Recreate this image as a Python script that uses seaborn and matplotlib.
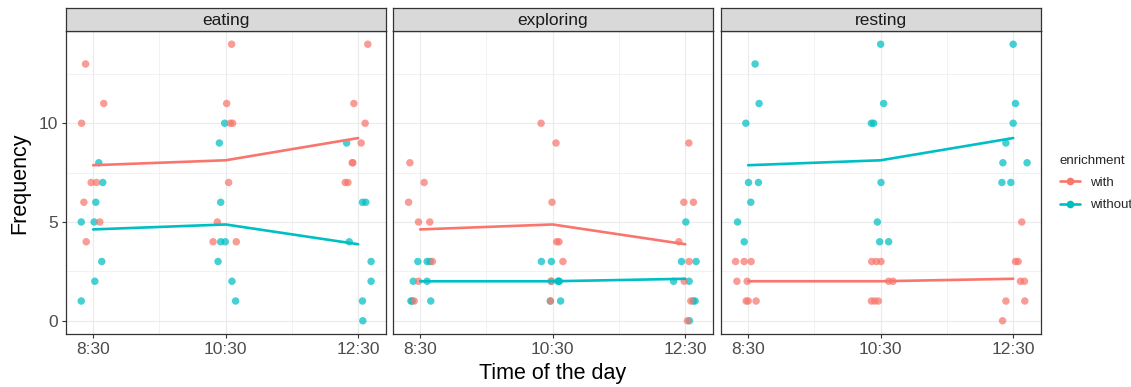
import numpy as np
import pandas as pd
import matplotlib
matplotlib.use("Agg")
import matplotlib.pyplot as plt
from matplotlib.lines import Line2D
import seaborn as sns

sns.set_theme(style="white")
plt.rcParams['font.family'] = ['Liberation Sans', 'DejaVu Sans']

activities = ["eating", "exploring", "resting"]
enrichments = ["with", "without"]
times = ["8:30", "10:30", "12:30"]
time_hours = [8.5, 10.5, 12.5]
palette = {"with": "#F8766D", "without": "#00BFC4"}

# frequencies per time slot (8:30, 10:30, 12:30)
eating_with = [[13, 11, 10, 7, 7, 6, 5, 4],
               [14, 11, 10, 10, 7, 5, 4, 4],
               [14, 11, 10, 9, 8, 8, 7, 7]]
eating_without = [[8, 7, 6, 5, 5, 3, 2, 1],
                  [10, 9, 6, 4, 4, 3, 2, 1],
                  [9, 6, 6, 4, 3, 2, 1, 0]]
exploring_with = [[8, 7, 6, 5, 5, 3, 2, 1],
                  [10, 9, 6, 4, 4, 3, 2, 1],
                  [9, 6, 6, 4, 3, 2, 1, 0]]
exploring_without = [[3, 3, 3, 2, 2, 1, 1, 1],
                     [3, 3, 2, 2, 2, 2, 1, 1],
                     [5, 3, 3, 2, 2, 1, 1, 0]]
resting_with = [[3, 3, 3, 2, 2, 1, 1, 1],
                [3, 3, 3, 2, 2, 1, 1, 1],
                [5, 3, 3, 2, 2, 1, 1, 0]]
resting_without = [[13, 11, 10, 7, 7, 6, 5, 4],
                   [14, 11, 10, 10, 7, 5, 4, 4],
                   [14, 11, 10, 9, 8, 8, 7, 7]]

# horizontal jitter of each point (hours)
eating_with_jit = [[-0.115, 0.16, -0.175, -0.03, 0.05, -0.14, 0.1, -0.105],
                   [0.09, 0.015, 0.07, 0.105, 0.045, -0.125, -0.19, 0.16],
                   [0.145, -0.065, 0.105, 0.045, -0.09, -0.08, -0.195, -0.155]]
eating_without_jit = [[0.085, 0.145, 0.04, -0.18, 0.015, 0.13, 0.025, -0.18],
                      [-0.015, -0.095, -0.075, -0.075, -0.005, -0.115, 0.095, 0.15],
                      [-0.175, 0.065, 0.115, -0.135, 0.195, 0.195, 0.065, 0.07]]
exploring_with_jit = [[-0.155, 0.06, -0.175, -0.025, 0.145, 0.185, -0.025, -0.09],
                      [-0.175, 0.05, -0.01, 0.06, 0.095, 0.155, -0.025, -0.035],
                      [0.055, -0.02, 0.125, -0.095, 0.06, -0.015, 0.085, 0.035]]
exploring_without_jit = [[-0.035, 0.105, 0.15, -0.105, 0.105, -0.14, 0.16, -0.12],
                         [-0.17, -0.02, 0.09, 0.1, -0.02, 0.08, 0.12, -0.035],
                         [0.01, -0.055, 0.165, -0.175, 0.06, 0.15, 0.12, 0.065]]
resting_with_jit = [[-0.19, -0.06, 0.045, -0.17, -0.015, -0.03, 0.0, 0.12],
                    [-0.135, -0.065, 0.005, 0.12, 0.185, -0.14, -0.09, -0.035],
                    [0.13, 0.035, 0.075, 0.11, 0.17, -0.11, 0.175, -0.16]]
resting_without_jit = [[0.105, 0.165, -0.035, 0.005, 0.155, 0.04, -0.16, -0.06],
                       [0.0, 0.045, -0.14, -0.105, 0.005, -0.05, -0.015, 0.12],
                       [0.0, 0.035, 0.0, -0.11, -0.155, 0.21, -0.17, -0.035]]

groups = [
    ("eating", "without", eating_without, eating_without_jit),
    ("eating", "with", eating_with, eating_with_jit),
    ("exploring", "without", exploring_without, exploring_without_jit),
    ("exploring", "with", exploring_with, exploring_with_jit),
    ("resting", "without", resting_without, resting_without_jit),
    ("resting", "with", resting_with, resting_with_jit),
]
rows = []
for act, enr, vals, jits in groups:
    for t, h, vl, jl in zip(times, time_hours, vals, jits):
        for v, j in zip(vl, jl):
            rows.append(dict(activity=act, enrichment=enr, time=t,
                             hour=h, xj=h + j, freq=v))
df = pd.DataFrame(rows)

W, H = 1131, 387
fig = plt.figure(figsize=(W / 100, H / 100), dpi=100)

lefts = [66, 393, 721]
pw = 320
p_bottom, p_top = 334, 31
strip_top = 8
border = '#333333'

for i, act in enumerate(activities):
    ax = fig.add_axes([lefts[i] / W, 1 - p_bottom / H, pw / W, (p_bottom - p_top) / H])
    sub = df[df.activity == act]
    sns.scatterplot(data=sub, x="xj", y="freq", hue="enrichment",
                    hue_order=enrichments, palette=palette, s=29, alpha=0.72,
                    linewidth=0, legend=False, ax=ax, zorder=3)
    sns.lineplot(data=sub, x="hour", y="freq", hue="enrichment",
                 hue_order=enrichments, palette=palette, estimator="mean",
                 errorbar=None, linewidth=1.9, legend=False, ax=ax, zorder=4)
    ax.set_xlim(8.09, 12.92)
    ax.set_ylim(-0.67, 14.67)
    ax.set_xticks(time_hours)
    ax.set_xticklabels(times)
    ax.set_xticks([9.5, 11.5], minor=True)
    ax.set_yticks([0, 5, 10])
    ax.set_yticks([2.5, 7.5, 12.5], minor=True)
    ax.grid(which='major', color='#EBEBEB', linewidth=0.85)
    ax.grid(which='minor', color='#EBEBEB', linewidth=0.45)
    ax.set_axisbelow(True)
    ax.set_xlabel('')
    ax.set_ylabel('')
    ax.tick_params(which='major', length=3, width=0.8, color=border,
                   labelsize=12.5, labelcolor='#4D4D4D', pad=2.5,
                   bottom=True, left=(i == 0), labelleft=(i == 0))
    ax.tick_params(which='minor', length=0)
    for sp in ax.spines.values():
        sp.set_color(border)
        sp.set_linewidth(0.9)

    sax = fig.add_axes([lefts[i] / W, 1 - p_top / H, pw / W, (p_top - strip_top) / H])
    sax.set_facecolor('#D9D9D9')
    sax.set_xticks([])
    sax.set_yticks([])
    for sp in sax.spines.values():
        sp.set_color(border)
        sp.set_linewidth(0.9)
    sax.text(0.5, 0.45, act, ha='center', va='center', fontsize=12.5,
             color='#1A1A1A', transform=sax.transAxes)

fig.text(20 / W, 1 - 183 / H, 'Frequency', rotation=90, ha='center',
         va='center', fontsize=15.5, color='black')
fig.text(553 / W, 1 - 373 / H, 'Time of the day', ha='center', va='center',
         fontsize=15.5, color='black')

handles = [Line2D([0], [0], color=palette[e], lw=1.9, marker='o',
                  markersize=5.5, markeredgewidth=0) for e in enrichments]
leg = fig.legend(handles, enrichments, title='enrichment', loc='upper left',
                 bbox_to_anchor=(1048 / W, 1 - 143 / H), frameon=False,
                 fontsize=9.5, title_fontsize=9.5, handlelength=1.5,
                 handletextpad=0.8, labelspacing=0.75, alignment='left')

fig.savefig('out.png', dpi=100)
